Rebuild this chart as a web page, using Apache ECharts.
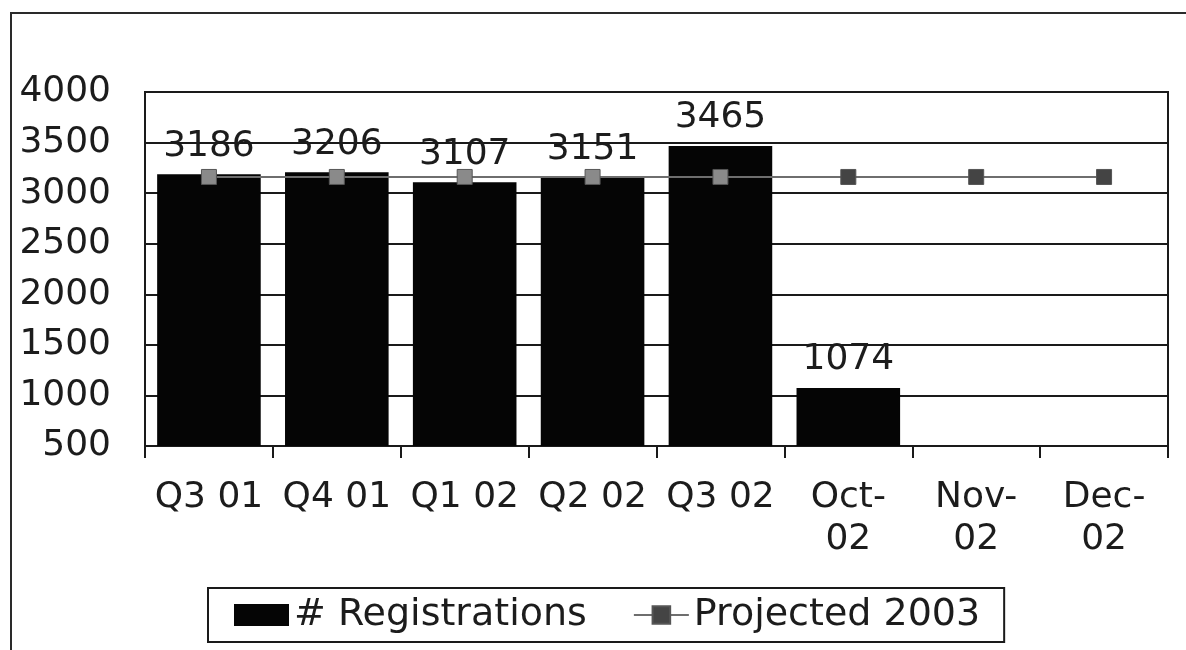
<!DOCTYPE html>
<html>
<head>
<meta charset="utf-8">
<script src="https://cdn.jsdelivr.net/npm/echarts@6/dist/echarts.min.js"></script>
<style>
  html, body { margin: 0; padding: 0; background: #ffffff; }
  #chart { width: 1186px; height: 650px; }
</style>
</head>
<body>
<div id="chart"></div>
<script>
const categories = ['Q3 01', 'Q4 01', 'Q1 02', 'Q2 02', 'Q3 02', 'Oct-02', 'Nov-02', 'Dec-02'];
const registrations = [3186, 3206, 3107, 3151, 3465, 1074, null, null];
const projected2003 = [3160, 3160, 3160, 3160, 3160, 3160, 3160, 3160];
const yTicks = { min: 500, max: 4000, step: 500 };

const FONT = '"DejaVu Sans", Verdana, sans-serif';
const TEXT = '#1c1c1c';

const chart = echarts.init(document.getElementById('chart'), null, { renderer: 'canvas' });

chart.setOption({
  backgroundColor: '#ffffff',
  animation: false,
  textStyle: { fontFamily: FONT },
  graphic: [{
    type: 'rect',
    shape: { x: 11, y: 13, width: 1250, height: 750 },
    style: { fill: 'none', stroke: '#2a2a2a', lineWidth: 2 },
    z: -10
  }],
  grid: {
    left: 145, right: 18, top: 92, bottom: 204,
    show: true, borderColor: '#1a1a1a', borderWidth: 2, backgroundColor: 'transparent'
  },
  legend: {
    left: 208, top: 588,
    padding: [8, 24, 8, 26],
    borderColor: '#1a1a1a', borderWidth: 2,
    itemWidth: 55, itemHeight: 22, itemGap: 46,
    textStyle: { fontSize: 38, color: TEXT, fontFamily: FONT },
    data: [
      { name: '# Registrations', icon: 'rect', itemStyle: { color: '#050505' } },
      { name: 'Projected 2003', itemStyle: { color: '#444444', borderColor: '#555555' }, lineStyle: { color: '#6e6e6e', width: 2 } }
    ]
  },
  xAxis: {
    type: 'category',
    data: categories,
    boundaryGap: true,
    axisLine: { show: true, lineStyle: { color: '#1a1a1a', width: 2 } },
    axisTick: { show: true, length: 12, interval: 0, lineStyle: { color: '#1a1a1a', width: 2 } },
    axisLabel: {
      interval: 0, fontSize: 36, color: TEXT, margin: 31, lineHeight: 42,
      fontFamily: FONT,
      formatter: v => v.replace('-', '-\n')
    }
  },
  yAxis: {
    type: 'value',
    min: yTicks.min, max: yTicks.max, interval: yTicks.step,
    axisLine: { show: true, lineStyle: { color: '#1a1a1a', width: 2 } },
    axisTick: { show: false },
    axisLabel: { fontSize: 36, color: TEXT, margin: 34, fontFamily: FONT, formatter: v => String(v) },
    splitLine: { show: true, lineStyle: { color: '#1a1a1a', width: 2 } }
  },
  series: [
    {
      name: '# Registrations',
      type: 'bar',
      data: registrations,
      barCategoryGap: '19%',
      itemStyle: { color: '#050505' },
      label: {
        show: true, position: 'top', distance: 10,
        fontSize: 36, color: TEXT, fontFamily: FONT
      },
      z: 2
    },
    {
      name: 'Projected 2003',
      type: 'line',
      data: projected2003,
      symbol: 'rect',
      symbolSize: 15,
      lineStyle: { color: '#6e6e6e', width: 2 },
      itemStyle: {
        color: p => {
          const r = registrations[p.dataIndex];
          return (r != null && r >= p.value - 80) ? '#8a8a8a' : '#444444';
        },
        borderColor: '#555555', borderWidth: 1
      },
      z: 3
    }
  ]
});
</script>
</body>
</html>
